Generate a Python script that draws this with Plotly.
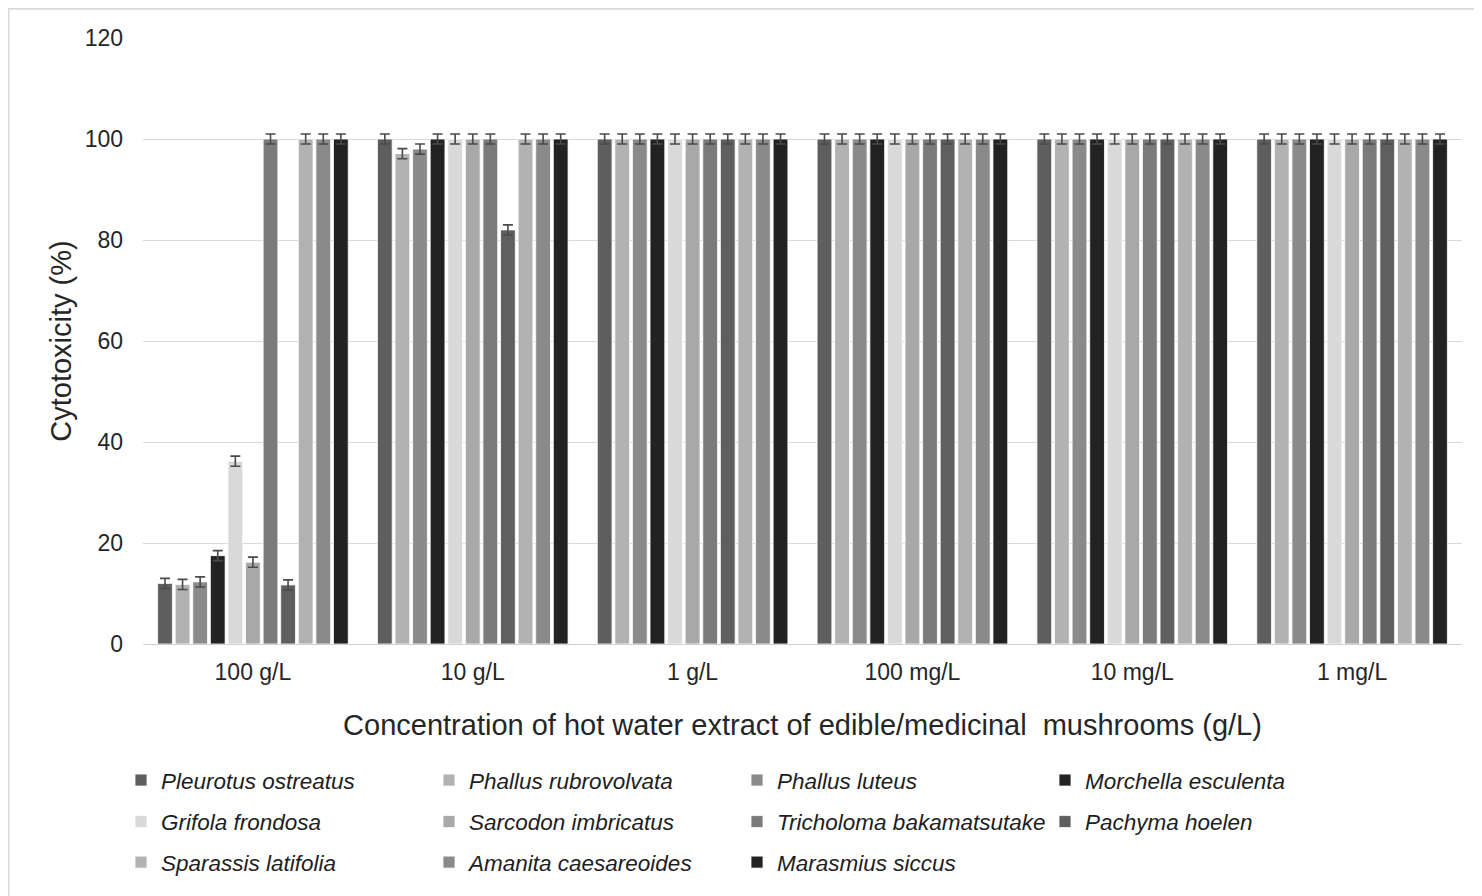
import plotly.graph_objects as go

categories = ["100 g/L", "10 g/L", "1 g/L", "100 mg/L", "10 mg/L", "1 mg/L"]

species = [
    "Pleurotus ostreatus", "Phallus rubrovolvata", "Phallus luteus", "Morchella esculenta",
    "Grifola frondosa", "Sarcodon imbricatus", "Tricholoma bakamatsutake", "Pachyma hoelen",
    "Sparassis latifolia", "Amanita caesareoides", "Marasmius siccus",
]

colors = ["#5e5e5e", "#b2b2b2", "#8a8a8a", "#222222", "#d9d9d9", "#a8a8a8",
          "#7b7b7b", "#5f5f5f", "#b2b2b2", "#8a8a8a", "#222222"]

# cytotoxicity (%) per species across the six concentrations
pleurotus = [12.0, 100, 100, 100, 100, 100]
phallus_rub = [11.8, 97.1, 100, 100, 100, 100]
phallus_lut = [12.3, 98.0, 100, 100, 100, 100]
morchella = [17.5, 100, 100, 100, 100, 100]
grifola = [36.2, 100, 100, 100, 100, 100]
sarcodon = [16.2, 100, 100, 100, 100, 100]
tricholoma = [100, 100, 100, 100, 100, 100]
pachyma = [11.7, 82.0, 100, 100, 100, 100]
sparassis = [100, 100, 100, 100, 100, 100]
amanita = [100, 100, 100, 100, 100, 100]
marasmius = [100, 100, 100, 100, 100, 100]

errors = [1.0, 1.0, 1.0, 1.0, 1.0, 1.0]

values = [pleurotus, phallus_rub, phallus_lut, morchella, grifola, sarcodon,
          tricholoma, pachyma, sparassis, amanita, marasmius]

legend_rows = ["legend"] * 4 + ["legend2"] * 4 + ["legend3"] * 3

FONT = "Liberation Sans, Arial, sans-serif"
TXT = "#262626"

fig = go.Figure()
for name, col, vals, lg in zip(species, colors, values, legend_rows):
    fig.add_trace(go.Bar(
        x=categories, y=vals, name=name, legend=lg,
        marker=dict(color=col, line=dict(color="#ffffff", width=0.8)),
        error_y=dict(type="data", array=errors, visible=True,
                     color="#4a4a4a", thickness=1.6, width=5),
    ))

W, H = 1474, 888
L, R, T, B = 135, 20, 30, 245
pw, ph = W - L - R, H - T - B


def px_x(x):
    return (x - L) / pw


def px_y(y):
    return (H - B - y) / ph


leg_common = dict(
    orientation="h", xanchor="left", yanchor="middle",
    entrywidth=263, entrywidthmode="pixels", traceorder="normal",
    font=dict(family=FONT, size=22.5, color="#1e1e1e", style="italic"),
    itemwidth=30, bgcolor="rgba(0,0,0,0)",
)

fig.update_layout(
    width=W, height=H,
    paper_bgcolor="white", plot_bgcolor="white",
    margin=dict(l=L, r=R, t=T, b=B),
    barmode="group", bargap=0.12, bargroupgap=0.16,
    font=dict(family=FONT, size=23, color=TXT),
    xaxis=dict(
        showgrid=False, showline=True, linecolor="#d0d0d0", linewidth=1,
        ticks="", tickfont=dict(size=23, color=TXT), ticklabelstandoff=7,
        title=dict(text="Concentration of hot water extract of edible/medicinal  mushrooms (g/L)",
                   font=dict(size=29, color=TXT), standoff=31),
    ),
    yaxis=dict(
        range=[0, 120], dtick=20, showgrid=True, gridcolor="#d9d9d9", gridwidth=1,
        zeroline=False, ticks="", tickfont=dict(size=23, color=TXT),
        ticklabelstandoff=19,
        title=dict(text="Cytotoxicity (%)", font=dict(size=29, color=TXT), standoff=4),
    ),
    legend=dict(x=px_x(113), y=px_y(781), **leg_common),
    legend2=dict(x=px_x(113), y=px_y(823), **leg_common),
    legend3=dict(x=px_x(113), y=px_y(864), **leg_common),
    shapes=[dict(type="rect", xref="paper", yref="paper",
                 x0=px_x(0.5), x1=px_x(W + 2), y0=px_y(H + 20), y1=px_y(0.5),
                 line=dict(color="#d9d9d9", width=2), fillcolor="rgba(0,0,0,0)",
                 layer="below")],
)

fig.write_html("out.html")
